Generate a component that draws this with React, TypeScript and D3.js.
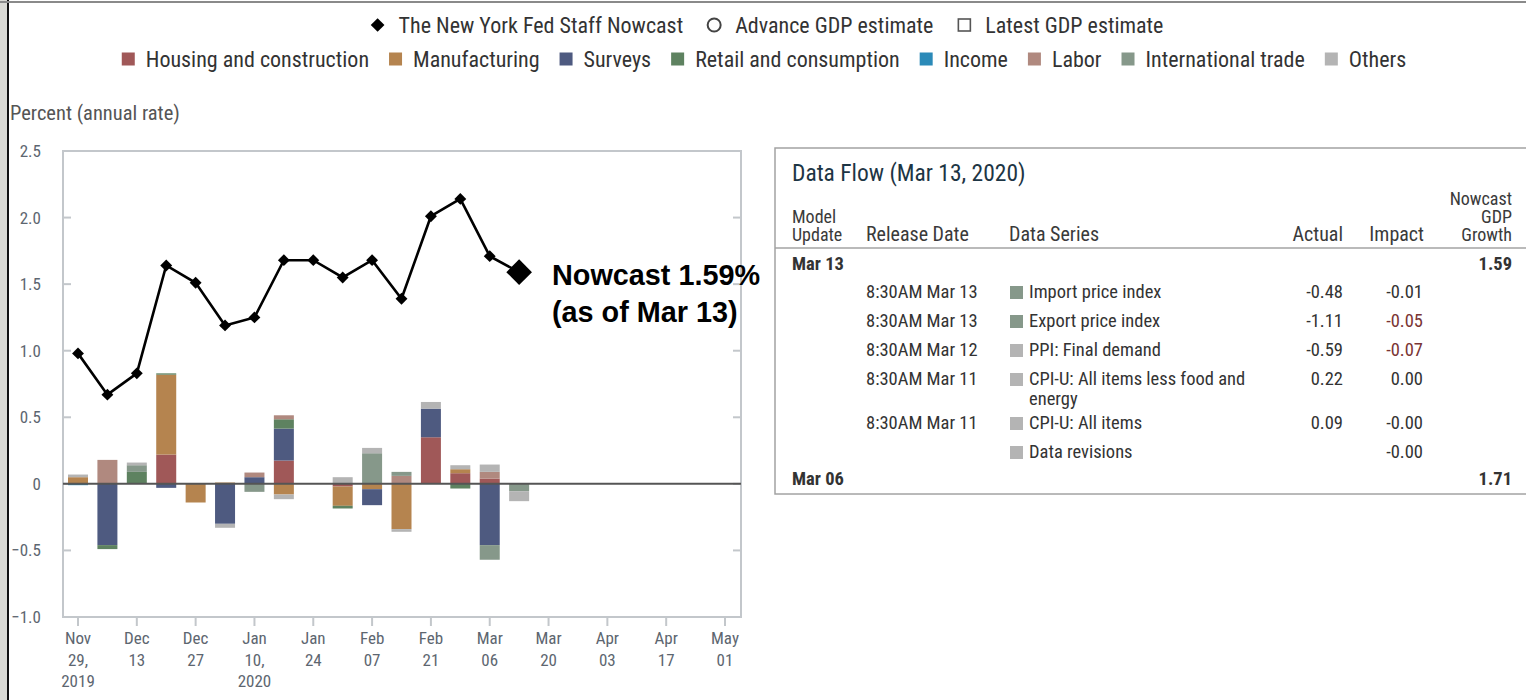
import React, { useEffect } from "react";
import * as d3 from "d3";

// weekly nowcast dates (Fridays)
const weeks = [
  "2019-11-29", "2019-12-06", "2019-12-13", "2019-12-20", "2019-12-27", "2020-01-03",
  "2020-01-10", "2020-01-17", "2020-01-24", "2020-01-31", "2020-02-07", "2020-02-14",
  "2020-02-21", "2020-02-28", "2020-03-06", "2020-03-13",
];
const nowcast = [0.98, 0.67, 0.83, 1.64, 1.51, 1.19, 1.25, 1.68, 1.68, 1.55, 1.68, 1.39, 2.01, 2.14, 1.71, 1.59];

const categories = [
  "Housing and construction", "Manufacturing", "Surveys", "Retail and consumption",
  "Income", "Labor", "International trade", "Others",
];
const catColors = ["#a05858", "#b5844f", "#4e5a80", "#5e8260", "#2b8ab8", "#b0897f", "#86988a", "#b4b4b4"];

const housing = [0, 0, 0, 0.22, 0, 0, 0, 0.175, 0, -0.02, 0, 0, 0.35, 0.08, 0.04, 0];
const manufacturing = [0.05, 0, 0, 0.6, -0.14, 0.01, 0, -0.08, 0, -0.145, -0.04, -0.34, 0, 0.03, 0, 0];
const surveys = [0, -0.46, 0, -0.03, 0, -0.3, 0.05, 0.24, 0, 0, -0.12, 0, 0.215, 0, -0.46, 0];
const retail = [0, -0.03, 0.09, 0.01, 0, 0, 0, 0.07, 0, -0.02, 0, 0, 0, -0.035, 0, 0];
const income = [-0.01, 0, 0, 0, 0, 0, 0, 0, 0, 0, 0, 0, 0, 0, 0, 0];
const labor = [0, 0.18, 0, 0, 0, 0, 0.035, 0.03, 0, 0, 0, 0.06, 0, 0, 0.05, 0];
const intlTrade = [0, 0, 0.05, 0, 0, 0, -0.06, 0, 0, 0, 0.23, 0.03, 0, 0, -0.11, -0.055];
const others = [0.02, 0, 0.02, 0, 0, -0.03, 0, -0.035, 0, 0.05, 0.04, -0.02, 0.05, 0.03, 0.055, -0.075];
const series = [housing, manufacturing, surveys, retail, income, labor, intlTrade, others];

const xTicks = ["2019-11-29", "2019-12-13", "2019-12-27", "2020-01-10", "2020-01-24", "2020-02-07",
  "2020-02-21", "2020-03-06", "2020-03-20", "2020-04-03", "2020-04-17", "2020-05-01"];
const yTicks = [-1.0, -0.5, 0, 0.5, 1.0, 1.5, 2.0, 2.5];

const lineLegend = ["The New York Fed Staff Nowcast", "Advance GDP estimate", "Latest GDP estimate"];

// data flow table
const flowTimes = ["8:30AM Mar 13", "8:30AM Mar 13", "8:30AM Mar 12", "8:30AM Mar 11", "8:30AM Mar 11", ""];
const flowSeries = ["Import price index", "Export price index", "PPI: Final demand",
  "CPI-U: All items less food and energy", "CPI-U: All items", "Data revisions"];
const flowGroup = ["International trade", "International trade", "Others", "Others", "Others", "Others"];
const flowActual = ["-0.48", "-1.11", "-0.59", "0.22", "0.09", ""];
const flowImpact = ["-0.01", "-0.05", "-0.07", "0.00", "-0.00", "-0.00"];

const FONT = "'Liberation Sans Narrow', 'Roboto Condensed', 'Arial Narrow', sans-serif";
const BOLD = "'Liberation Sans', Arial, sans-serif";
const W = 1526;
const H = 700;
const LEG_SIZE = 22;

const parse = d3.timeParse("%Y-%m-%d");

let ctx: CanvasRenderingContext2D | null = null;
function textWidth(s: string, size: number) {
  if (!ctx) ctx = document.createElement("canvas").getContext("2d");
  if (!ctx) return s.length * size * 0.45;
  ctx.font = `${size}px ${FONT}`;
  return ctx.measureText(s).width;
}

function wrap(s: string, n: number) {
  if (s.length <= n) return [s];
  const cut = s.lastIndexOf(" ", n);
  return [s.slice(0, cut), s.slice(cut + 1)];
}

// lay out one legend row centred on cx
function layoutRow(labels: string[], cx: number, symW: number, pad: number, gap: number) {
  const widths = labels.map((l) => symW + pad + textWidth(l, LEG_SIZE));
  const total = d3.sum(widths) + gap * (labels.length - 1);
  let pos = cx - total / 2;
  return widths.map((w) => {
    const p = pos;
    pos += w + gap;
    return p;
  });
}

export default function App() {
  useEffect(() => {
    document.body.style.margin = "0";
  }, []);

  const x = d3.scaleTime()
    .domain([parse("2019-11-29")!, parse("2020-05-01")!])
    .range([78, 725]);
  const y = d3.scaleLinear().domain([-1, 2.5]).range([617, 151]);
  const left = 63, right = 741, top = 151, bottom = 617;

  const rows = weeks.map((w, i) => {
    const r: any = { date: parse(w) };
    categories.forEach((c, k) => (r[c] = series[k][i]));
    return r;
  });
  const stacked = d3.stack<any>().keys(categories).offset(d3.stackOffsetDiverging)(rows);
  const barW = 20;

  const line = d3.line<number>()
    .x((_, i) => x(parse(weeks[i])!))
    .y((d) => y(d));
  const diamond = d3.symbol().type(d3.symbolDiamond2);

  const fmtX = (s: string) => {
    const d = parse(s)!;
    const lines = [d3.timeFormat("%b")(d), d3.timeFormat("%d")(d)];
    if (s === "2019-11-29" || s === "2020-01-10") {
      lines[1] += ",";
      lines.push(d3.timeFormat("%Y")(d));
    }
    return lines;
  };

  const row1X = layoutRow(lineLegend, 767, 14, 14, 24);
  const row2X = layoutRow(categories, 764, 13, 11, 20);

  const last = nowcast.length - 1;

  // table row baselines
  let ty = 298;
  const rowY = flowSeries.map((s) => {
    const yy = ty;
    ty += 29 + (wrap(s, 30).length - 1) * 15;
    return yy;
  });

  return (
    <svg width={W} height={H} style={{ display: "block", background: "#fff" }} fontFamily={FONT}>
      <rect x={0} y={0} width={7} height={H} fill="#d9d9d4" />
      <line x1={8} x2={8} y1={0} y2={H} stroke="#111" strokeWidth={2} />
      <line x1={0} x2={W} y1={2} y2={2} stroke="#8a8a8a" strokeWidth={2} />

      {/* legend */}
      {lineLegend.map((l, i) => (
        <g key={l} transform={`translate(${row1X[i]},25)`}>
          {i === 0 && <path transform="translate(7,0)" d={d3.symbol().type(d3.symbolDiamond2).size(120)()!} fill="#000" />}
          {i === 1 && <circle cx={7} r={6.5} fill="none" stroke="#444" strokeWidth={2} />}
          {i === 2 && <rect x={1} y={-6} width={12} height={12} fill="none" stroke="#555" strokeWidth={1.6} />}
          <text x={28} dy="0.35em" fontSize={LEG_SIZE} fill="#333">{l}</text>
        </g>
      ))}
      {categories.map((c, i) => (
        <g key={c} transform={`translate(${row2X[i]},59)`}>
          <rect x={0} y={-6.5} width={13} height={13} fill={catColors[i]} />
          <text x={24} dy="0.35em" fontSize={LEG_SIZE} fill="#333">{c}</text>
        </g>
      ))}

      <text x={10} y={120} fontSize={20.5} fill="#555">Percent (annual rate)</text>

      {/* frame */}
      <rect x={left} y={top} width={right - left} height={bottom - top} fill="none" stroke="#c3c7cb" strokeWidth={2} />
      {yTicks.map((t) => (
        <g key={t}>
          <line x1={left} x2={left + 8} y1={y(t)} y2={y(t)} stroke="#c3c7cb" strokeWidth={2} />
          <line x1={right - 8} x2={right} y1={y(t)} y2={y(t)} stroke="#c3c7cb" strokeWidth={2} />
          <text x={41} y={y(t)} dy="0.35em" textAnchor="end" fontSize={17} fill="#5d6670">
            {t === 0 ? "0" : d3.format(".1f")(t)}
          </text>
        </g>
      ))}
      {xTicks.map((t) => (
        <g key={t} transform={`translate(${x(parse(t)!)},0)`}>
          <line y1={bottom} y2={bottom + 9} stroke="#c3c7cb" strokeWidth={2} />
          {fmtX(t).map((s, i) => (
            <text key={i} y={644 + i * 21.5} textAnchor="middle" fontSize={17} fill="#5d6670">{s}</text>
          ))}
        </g>
      ))}

      {/* stacked contribution bars */}
      {stacked.map((layer, k) => (
        <g key={layer.key} fill={catColors[k]}>
          {layer.map((d, i) =>
            d[1] - d[0] === 0 ? null : (
              <rect key={i} x={x(d.data.date) - barW / 2} width={barW}
                y={y(Math.max(d[0], d[1]))} height={Math.abs(y(d[0]) - y(d[1]))} />
            )
          )}
        </g>
      ))}
      <line x1={left} x2={right} y1={y(0)} y2={y(0)} stroke="#555" strokeWidth={2} />

      {/* nowcast line */}
      <path d={line(nowcast)!} fill="none" stroke="#000" strokeWidth={2.6} />
      {nowcast.map((v, i) => (
        <path key={i} transform={`translate(${x(parse(weeks[i])!)},${y(v)})`}
          d={diamond.size(i === last ? 420 : 90)()!} fill="#000" />
      ))}
      <text x={552} y={285} fontFamily={BOLD} fontWeight="bold" fontSize={28.8} fill="#000">
        {`Nowcast ${nowcast[last]}%`}
      </text>
      <text x={552} y={322} fontFamily={BOLD} fontWeight="bold" fontSize={28.8} fill="#000">
        (as of Mar 13)
      </text>

      {/* data flow table */}
      <rect x={775} y={148} width={W - 775 + 4} height={346} fill="none" stroke="#a3a3a3" strokeWidth={1.5} />
      <text x={792} y={181} fontSize={23.5} fill="#1d3544">Data Flow (Mar 13, 2020)</text>
      <g fontSize={18} fill="#3a3a3a">
        <text x={792} y={223}>Model</text>
        <text x={792} y={241}>Update</text>
        <text x={866} y={241} fontSize={20}>Release Date</text>
        <text x={1009} y={241} fontSize={20}>Data Series</text>
        <text x={1343} y={241} fontSize={20} textAnchor="end">Actual</text>
        <text x={1424} y={241} fontSize={20} textAnchor="end">Impact</text>
        <text x={1512} y={205} textAnchor="end">Nowcast</text>
        <text x={1512} y={223} textAnchor="end">GDP</text>
        <text x={1512} y={241} textAnchor="end">Growth</text>
      </g>
      <line x1={775} x2={W} y1={248} y2={248} stroke="#a3a3a3" strokeWidth={1.5} />
      <g fontSize={18.5} fill="#333">
        <text x={792} y={270} fontWeight="bold">Mar 13</text>
        <text x={1512} y={270} textAnchor="end" fontWeight="bold">{nowcast[last].toFixed(2)}</text>
        {flowSeries.map((s, i) => (
          <g key={i}>
            <text x={866} y={rowY[i]}>{flowTimes[i]}</text>
            <rect x={1010} y={rowY[i] - 12} width={13} height={13} fill={catColors[categories.indexOf(flowGroup[i])]} />
            {wrap(s, 30).map((ln, j) => (
              <text key={j} x={1029} y={rowY[i] + j * 20}>{ln}</text>
            ))}
            <text x={1343} y={rowY[i]} textAnchor="end">{flowActual[i]}</text>
            <text x={1423} y={rowY[i]} textAnchor="end"
              fill={Math.abs(+flowImpact[i]) >= 0.05 ? "#7a3434" : "#333"}>{flowImpact[i]}</text>
          </g>
        ))}
        <text x={792} y={485} fontWeight="bold">Mar 06</text>
        <text x={1512} y={485} textAnchor="end" fontWeight="bold">{nowcast[last - 1].toFixed(2)}</text>
      </g>
    </svg>
  );
}
